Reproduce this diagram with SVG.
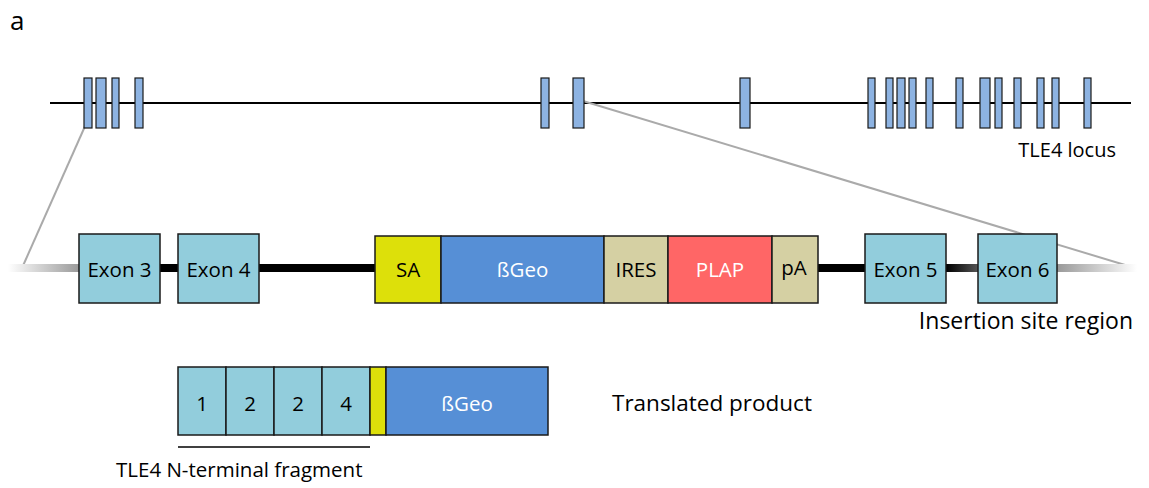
<svg xmlns="http://www.w3.org/2000/svg" width="1149" height="488" viewBox="0 0 1149 488">
<style>
text{font-family:"Open Sans","Liberation Sans",sans-serif;fill:#000}
.ex{fill:#8db3e2;stroke:#1a1a1a;stroke-width:1.2}
.bx{stroke:#1a1a1a;stroke-width:1.5}
.teal{fill:#92cddc}
.lbl{font-size:20.5px;text-anchor:middle}
.wl{fill:#fff}
</style>
<defs>
<linearGradient id="gl" x1="0" x2="1" y1="0" y2="0"><stop offset="0" stop-color="#fff"/><stop offset="1" stop-color="#999"/></linearGradient>
<linearGradient id="gr" x1="0" x2="1" y1="0" y2="0"><stop offset="0" stop-color="#999"/><stop offset="1" stop-color="#fff"/></linearGradient>
<linearGradient id="gm" x1="0" x2="1" y1="0" y2="0"><stop offset="0" stop-color="#000"/><stop offset="1" stop-color="#555"/></linearGradient>
</defs>
<text x="10" y="30" style="font-size:26px">a</text>
<g id="connectors">
<line x1="50" y1="103" x2="1131" y2="103" stroke="#000" stroke-width="2"/>
<line x1="90" y1="115" x2="22" y2="268" stroke="#aaa" stroke-width="2"/>
<line x1="583" y1="101" x2="1135" y2="268" stroke="#aaa" stroke-width="2"/>
<rect x="8" y="264" width="72" height="8" fill="url(#gl)"/>
<rect x="1057" y="264" width="80" height="8" fill="url(#gr)"/>
<line x1="160" y1="268" x2="178" y2="268" stroke="#000" stroke-width="8"/>
<line x1="259" y1="268" x2="375" y2="268" stroke="#000" stroke-width="8"/>
<line x1="818" y1="268" x2="865" y2="268" stroke="#000" stroke-width="8"/>
<rect x="946" y="264" width="32" height="8" fill="url(#gm)"/>
<line x1="178" y1="447" x2="370" y2="447" stroke="#000" stroke-width="1.5"/>
</g>
<g id="locus">
<rect class="ex" x="84" y="78" width="8" height="50"/>
<rect class="ex" x="96" y="78" width="10" height="50"/>
<rect class="ex" x="112" y="78" width="7" height="50"/>
<rect class="ex" x="135" y="78" width="8" height="50"/>
<rect class="ex" x="541" y="78" width="8" height="50"/>
<rect class="ex" x="573" y="78" width="11" height="50"/>
<rect class="ex" x="740" y="78" width="10" height="50"/>
<rect class="ex" x="868" y="78" width="7" height="50"/>
<rect class="ex" x="886" y="78" width="7" height="50"/>
<rect class="ex" x="897" y="78" width="8" height="50"/>
<rect class="ex" x="909" y="78" width="7" height="50"/>
<rect class="ex" x="926" y="78" width="7" height="50"/>
<rect class="ex" x="956" y="78" width="7" height="50"/>
<rect class="ex" x="980" y="78" width="10" height="50"/>
<rect class="ex" x="995" y="78" width="7" height="50"/>
<rect class="ex" x="1014" y="78" width="7" height="50"/>
<rect class="ex" x="1037" y="78" width="7" height="50"/>
<rect class="ex" x="1052" y="78" width="7" height="50"/>
<rect class="ex" x="1084" y="78" width="7" height="50"/>
<text x="1116" y="157" style="font-size:20px;text-anchor:end">TLE4 locus</text>
</g>
<g id="exon3"><rect class="bx teal" x="79" y="234" width="81" height="69"/><text class="lbl" x="119.5" y="277">Exon 3</text></g>
<g id="exon4"><rect class="bx teal" x="178" y="234" width="81" height="69"/><text class="lbl" x="218.5" y="277">Exon 4</text></g>
<g id="sa"><rect class="bx" fill="#dde00a" x="375" y="236" width="66" height="67"/><text class="lbl" x="408" y="277">SA</text></g>
<g id="bgeo"><rect class="bx" fill="#568fd6" x="441" y="236" width="163" height="67"/><text class="lbl wl" x="522.5" y="277">ßGeo</text></g>
<g id="ires"><rect class="bx" fill="#d5d0a3" x="604" y="236" width="64" height="67"/><text class="lbl" x="636" y="277">IRES</text></g>
<g id="plap"><rect class="bx" fill="#ff6666" x="668" y="236" width="104" height="67"/><text class="lbl wl" x="720" y="277">PLAP</text></g>
<g id="pa"><rect class="bx" fill="#d5d0a3" x="772" y="236" width="46" height="67"/><text class="lbl" x="794" y="275">pA</text></g>
<g id="exon5"><rect class="bx teal" x="865" y="234" width="81" height="69"/><text class="lbl" x="905.5" y="277">Exon 5</text></g>
<g id="exon6"><rect class="bx teal" x="978" y="234" width="79" height="69"/><text class="lbl" x="1017.5" y="277">Exon 6</text></g>
<text x="1133" y="329" style="font-size:23px;text-anchor:end">Insertion site region</text>
<g id="product">
<rect class="bx teal" x="178" y="367" width="48" height="68"/><text class="lbl" x="202" y="411">1</text>
<rect class="bx teal" x="226" y="367" width="48" height="68"/><text class="lbl" x="250" y="411">2</text>
<rect class="bx teal" x="274" y="367" width="48" height="68"/><text class="lbl" x="298" y="411">2</text>
<rect class="bx teal" x="322" y="367" width="48" height="68"/><text class="lbl" x="346" y="411">4</text>
<rect class="bx" fill="#dde00a" x="370" y="367" width="16" height="68"/>
<rect class="bx" fill="#568fd6" x="386" y="367" width="162" height="68"/><text class="lbl wl" x="467" y="411">ßGeo</text>
</g>
<text x="612" y="411" style="font-size:22.5px">Translated product</text>
<text x="116" y="477" style="font-size:20.5px">TLE4 N-terminal fragment</text>
</svg>
